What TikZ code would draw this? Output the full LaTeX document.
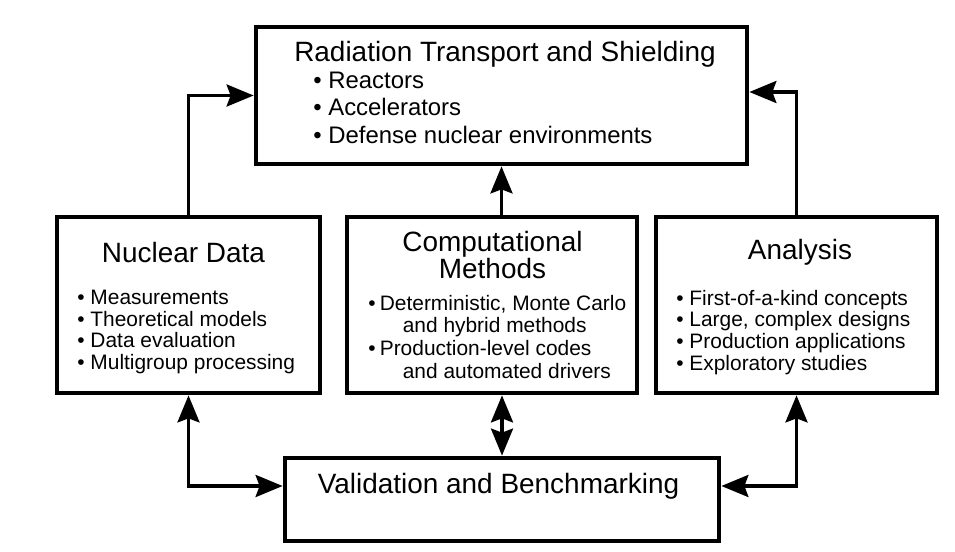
\documentclass[tikz,border=0pt]{standalone}
\usepackage{fontspec}
\setmainfont{Liberation Sans}
\usetikzlibrary{arrows.meta}

\newcommand{\titlefont}{\fontsize{15.9}{14.7}\selectfont}
\newcommand{\bigitemfont}{\fontsize{13.6}{15.6}\selectfont}
\newcommand{\itemfont}{\fontsize{11.9}{12.4}\selectfont}

\begin{document}
\begin{tikzpicture}[
    >={Stealth[length=0.54cm,width=0.44cm,inset=0.08cm]},
    block/.style={draw,line width=2.7pt,inner sep=0pt,minimum height=3.52cm},
    link/.style={line width=2pt,->},
    heading/.style={inner sep=0pt,font=\titlefont,align=center},
    items/.style={inner sep=0pt,anchor=north west,align=left,font=\itemfont}
]

\useasboundingbox (0,0) rectangle (19.1,11.02);

% boxes
\node [block,minimum width=9.82cm,minimum height=2.74cm] (rts) at (10.03,9.11) {};
\node [block,minimum width=5.26cm] (nd) at (3.77,4.92) {};
\node [block,minimum width=5.8cm] (cm) at (9.84,4.92) {};
\node [block,minimum width=5.62cm] (an) at (15.93,4.92) {};
\node [block,minimum width=8.68cm,minimum height=1.66cm] (vb) at (10.04,1.03) {};

% headings
\node [heading] (rtst) at (10.10,9.94) {Radiation Transport and Shielding};
\node [heading] (ndt) at (3.67,5.96) {Nuclear Data};
\node [heading] (cmt) at (9.85,5.92) {Computational\\Methods};
\node [heading] (ant) at (16.0,5.98) {Analysis};
\node [heading] (vbt) at (9.97,1.30) {Validation and Benchmarking};

% item lists
\node [items,font=\bigitemfont] (rtsl) at (6.26,9.59)
    {\textbullet\ Reactors\\\textbullet\ Accelerators\\\textbullet\ Defense nuclear environments};
\node [items] (ndl) at (1.54,5.23)
    {\textbullet\ Measurements\\\textbullet\ Theoretical models\\\textbullet\ Data evaluation\\\textbullet\ Multigroup processing};
\node [items,font=\fontsize{11.9}{12.9}\selectfont] (cml) at (7.36,5.13)
    {\textbullet\hspace{0.2em}Deterministic, Monte Carlo\\\hspace*{1.65em}and hybrid methods\\
     \textbullet\hspace{0.2em}Production-level codes\\\hspace*{1.65em}and automated drivers};
\node [items] (anl) at (13.52,5.23)
    {\textbullet\ First-of-a-kind concepts\\\textbullet\ Large, complex designs\\\textbullet\ Production applications\\\textbullet\ Exploratory studies};

% links
\draw [link] (nd.north) |- (rts.west);
\draw [link] (an.north) |- ([yshift=0.07cm]rts.east);
\draw [link] (rts.south |- cm.north) -- (rts.south);
\draw [link,<->] (vb.north |- cm.south) -- (vb.north);
\draw [link,<->] (nd.south) |- (vb.west |- vbt);
\draw [link,<->] (an.south) |- (vb.east |- vbt);

\end{tikzpicture}
\end{document}
